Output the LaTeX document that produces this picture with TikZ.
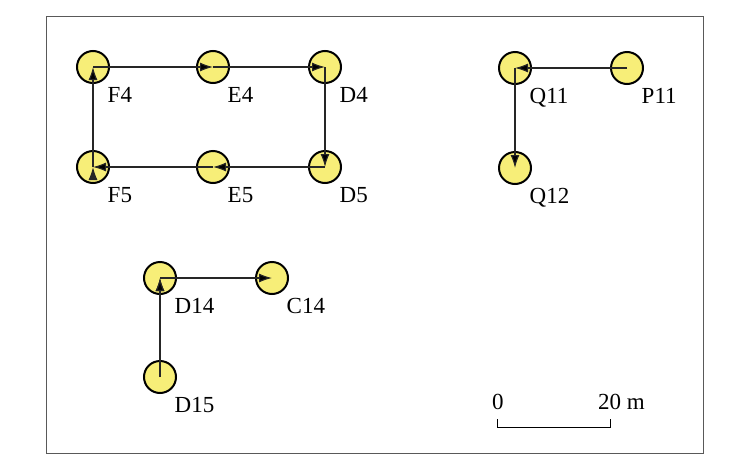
\documentclass[tikz,border=0pt]{standalone}
\usepackage{fontspec}
\setmainfont{Liberation Serif}
\usepackage{tikz}
\usetikzlibrary{positioning}
\usetikzlibrary{arrows.meta}

\definecolor{wellyellow}{RGB}{247,238,120}

\tikzset{
    well/.style={circle,draw=black,line width=2pt,fill=wellyellow,minimum size=32pt,inner sep=0pt},
    tag/.style={inner sep=0pt,font=\fontsize{23}{27}\selectfont},
    link/.style={-{Latex[length=13pt,width=9pt]},line width=1.1pt,draw=black!85},
    frame/.style={draw=black!65,line width=1pt}
}

\begin{document}
\begin{tikzpicture}[x=1pt,y=1pt]
    \useasboundingbox (0,0) rectangle (750,-469);
    \draw[frame] (46,-16) rectangle (703,-453);

    \foreach \name/\x/\y in {F4/93/67, E4/213/67, D4/325/67,
                             F5/93/167, E5/213/167, D5/325/167,
                             Q11/515/68, P11/627/68, Q12/515/168,
                             D14/160/278, C14/272/278, D15/160/377}
        \node[well] (\name) at (\x, -\y) {};

    \foreach \name in {F4,E4,D4,F5,E5,D5,Q11,P11,Q12,D14,C14,D15}
        \node[tag, below right=8pt and 2.5pt of \name] (l\name) {\name};

    \path[link]
        (F4.center) edge (E4.center)
        (E4.center) edge (D4.center)
        (D4.center) edge (D5.center)
        (D5.center) edge (E5.center)
        (E5.center) edge (F5.center)
        (F5.center) edge (F4.center);

    \path[link]
        (P11.center) edge (Q11.center)
        (Q11.center) edge (Q12.center)
        (D15.center) edge (D14.center)
        (D14.center) edge (C14.center);

    % scale bar
    \node[tag, anchor=base west] (zero) at (492,-409) {0};
    \node[tag, anchor=base west] (twenty) at (598,-409) {20 m};
    \draw[line width=1pt] (497,-419) -- (497,-427) -- (610,-427) -- (610,-419);
\end{tikzpicture}
\end{document}
